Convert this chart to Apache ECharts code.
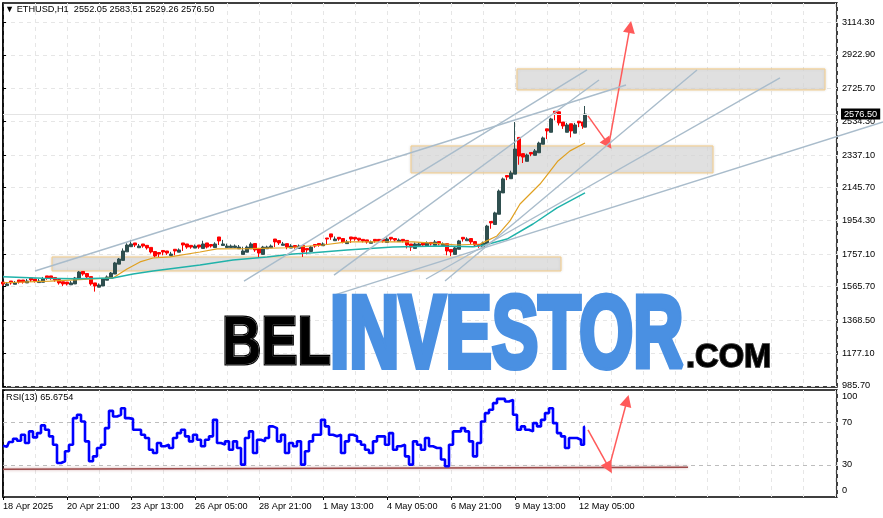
<!DOCTYPE html>
<html>
<head>
<meta charset="utf-8">
<style>html,body{margin:0;padding:0;background:#fff}#c{width:883px;height:518px}</style>
<script src="https://cdn.jsdelivr.net/npm/echarts@6/dist/echarts.min.js"></script>
</head>
<body>
<div id="c"></div>
<script>
const titleText = '▼ ETHUSD,H1  2552.05 2583.51 2529.26 2576.50';
const rsiTitle = 'RSI(13) 65.6754';
const lastPrice = 2576.5;
const priceTicks = [3114.3,2922.9,2725.7,2534.3,2337.1,2145.7,1954.3,1757.1,1565.7,1368.5,1177.1,985.7];
const rsiTicks = [100,70,30,0];
const rsiLevels = [70,30];
const dateHours = [0,64,128,192,256,320,384,448,512,576];
const dateLabels = ['18 Apr 2025','20 Apr 21:00','23 Apr 13:00','26 Apr 05:00','28 Apr 21:00','1 May 13:00','4 May 05:00','6 May 21:00','9 May 13:00','12 May 05:00'];
const closes = [1582,1582,1588,1588,1593,1593,1599,1605,1599,1599,
1611,1617,1617,1605,1588,1582,1582,1588,1617,1652,
1640,1623,1582,1570,1576,1611,1623,1646,1705,1728,
1775,1810,1816,1810,1804,1804,1793,1769,1746,1757,
1769,1763,1757,1775,1781,1810,1798,1798,1804,1798,
1816,1798,1804,1816,1834,1816,1804,1804,1804,1798,
1775,1798,1816,1781,1763,1798,1798,1804,1828,1822,
1816,1798,1804,1798,
1804,1769,1781,1798,1804,1810,1816,1845,1857,1845,
1845,1828,1828,1845,1845,1839,1834,1828,1828,1834,
1834,1834,1845,1845,1839,1839,1834,1810,1798,1816,
1816,1810,1822,1816,1828,1816,1816,1775,1769,1793,
1834,1845,1845,1828,1810,1804,1822,1921,1939,1998,
2126,2197,2208,2232,2372,2331,2325,2337,2343,2361,
2407,2437,2478,2548,2583,2525,2507,2513,2478,2513,
2525,2507,2576.5];
const highs = [1593,1593,1599,1599,1605,1605,1611,1617,1611,1611,
1623,1629,1629,1620,1608,1595,1593,1599,1623,1658,
1655,1643,1625,1588,1585,1617,1632,1652,1711,1734,
1790,1820,1840,1822,1816,1816,1808,1796,1772,1766,
1778,1775,1770,1785,1790,1822,1816,1808,1813,1810,
1835,1822,1813,1826,1857,1840,1818,1813,1813,1810,
1800,1807,1826,1819,1790,1805,1806,1813,1845,1836,
1828,1818,1815,1807,
1813,1807,1790,1805,1813,1819,1825,1851,1875,1860,
1855,1848,1840,1857,1855,1850,1843,1840,1836,1843,
1843,1843,1854,1855,1848,1848,1843,1837,1816,1825,
1825,1822,1831,1825,1839,1830,1825,1818,1784,1802,
1840,1855,1855,1848,1830,1813,1830,1928,1948,2005,
2135,2205,2217,2245,2530,2440,2345,2345,2352,2372,
2415,2445,2490,2555,2593,2590,2530,2525,2520,2525,
2535,2530,2624];
const lows = [1570,1572,1578,1580,1584,1584,1588,1594,1590,1590,
1592,1606,1606,1595,1578,1570,1573,1577,1582,1610,
1630,1612,1572,1537,1563,1570,1604,1614,1640,1698,
1720,1770,1800,1798,1794,1794,1783,1760,1738,1740,
1750,1752,1748,1750,1768,1775,1788,1788,1792,1788,
1790,1790,1795,1795,1810,1807,1795,1795,1795,1788,
1755,1768,1788,1770,1740,1755,1788,1794,1798,1810,
1808,1785,1792,1788,
1790,1740,1755,1772,1794,1800,1806,1810,1840,1835,
1835,1820,1818,1822,1835,1830,1825,1818,1820,1824,
1824,1824,1825,1835,1830,1830,1825,1790,1775,1790,
1806,1800,1802,1806,1808,1808,1806,1750,1745,1755,
1785,1830,1835,1815,1798,1793,1798,1815,1905,1930,
1990,2115,2190,2198,2225,2280,2290,2300,2330,2335,
2350,2400,2430,2470,2540,2510,2490,2470,2440,2465,
2500,2490,2500];
const barColours = 'rdrdrrdrrdd' + 'rrrrrrd' + 'ddrrr' + 'rddd' + 'ddddd' + 'drdrrrrr' + 'rrdrd' + 'rrrdrdrrd' + 'rddddddddr' + 'rdddrrdrdr'
  + 'drrdrrdrrd' + 'rrdrrrrrdr' + 'rrdrrdrrrd' + 'drdrdrdrrd' + 'drdrrrddrd' + 'ddrddrrdrd' + 'ddrdrrrdrd' + 'rrd';
const rsiValues = [48,47,51.4,54.5,52.6,58.2,50.5,61.3,55.7,59.7,
66.9,62.9,56.7,48.9,31.8,33.4,42.7,48.9,73.7,76.8,
70.6,52,33.4,38,45.8,48.9,64.4,80.5,75.2,76.8,
83,73.7,73,62.9,62.9,58.2,55.1,44.2,41.1,50.5,
47.4,48.9,45.8,55.1,59.7,62.9,56.7,52,58.2,53.5,
47.4,53.5,56.7,72.1,50.5,48.9,52,44.2,52,45.8,
30.3,55.1,61.3,41.1,53.5,52,55.1,66,64.4,52,
58.2,41.1,50.5,47.4,52,30.3,42.7,52,58.2,58.2,
72.1,66,58.2,56.7,58.2,41.1,52,58.2,56.7,52,
48.9,44.2,41.1,52,56.7,56.7,48.9,59.7,44.2,47.4,
48.9,38,30.3,52,48.9,44.2,55.1,47.4,45.8,45.8,
35,28.8,48.9,61.3,61.3,64.4,61.3,52,38,50.5,
70.6,78.4,81.5,87.7,91.7,91.7,89.2,90.8,76.8,62.9,
66,62.9,61.3,69,66,72.1,78.4,83,69,59.7,
56.7,45.8,55.1,55.1,53.5,48.9,65.7];
const maFast = [[0,1589],[47,1599],[110,1617],[124,1670],[137,1711],[150,1734],[167,1740],[197,1769],[214,1787],[247,1789],[284,1794],[320,1810],[344,1828],[377,1828],[410,1828],[437,1818],[454,1810],[477,1816],[480,1824],[494,1863],[507,1951],[517,2050],[537,2167],[545,2226],[555,2302],[567,2361],[582,2407]];
const maSlow = [[0,1624],[40,1615],[74,1613],[110,1617],[130,1640],[150,1658],[197,1693],[230,1722],[264,1740],[290,1757],[310,1765],[344,1781],[390,1798],[437,1804],[470,1800],[482,1810],[504,1845],[530,1933],[554,2027],[582,2115]];
const trendLines = [
  [[32,1658],[623,2747]],
  [[241,1599],[584,2835]],
  [[331,1634],[596,2776]],
  [[442,1599],[694,2835]],
  [[423,1611],[777,2788]],
  [[331,1517],[880,2530]]
];
const zones = [
  [[49,1740],[558,1658]],
  [[408,2390],[710,2232]],
  [[514,2841],[822,2718]]
];
const priceArrows = [
  [[585,2566],[605,2402]],
  [[606,2402],[627,3087]]
];
const rsiArrows = [
  [[585,62.8],[606,27.2]],
  [[606,27.2],[624,90]]
];
const rsiSupport = [[0,26],[685,27.9]];

const FONT = 'Liberation Sans';
const FS = 9.2;
const STEP = 4, LAST_HOUR = 582;
const PRICE_MIN = 978.6, PRICE_MAX = 3227;
const hourOf = i => Math.min(i * STEP, LAST_HOUR);
const candleData = closes.map((c, i) => [hourOf(i), barColours[i] === 'r' ? highs[i] : lows[i], c, lows[i], highs[i]]);
const rsiData = rsiValues.map((v, i) => [hourOf(i), v]);

const plainLine = (data, color, width, extra) => Object.assign({
  type: 'line', data, showSymbol: false, symbol: 'none', silent: true,
  lineStyle: { color, width }, xAxisIndex: 0, yAxisIndex: 0
}, extra || {});

const arrowSeries = (arrows, xi, yi) => ({
  type: 'line', data: [], xAxisIndex: xi, yAxisIndex: yi, silent: true, z: 12,
  markLine: {
    silent: true, animation: false, symbol: ['none', 'triangle'], symbolSize: 12,
    lineStyle: { color: '#ff5a5a', width: 1.5, type: 'solid', opacity: 1 },
    itemStyle: { color: '#ff4d4d' }, label: { show: false },
    data: arrows.map(a => [{ coord: a[0] }, { coord: a[1] }])
  }
});

const series = [
  {
    type: 'candlestick', data: candleData, encode: { x: 0, y: [1, 2, 3, 4] },
    xAxisIndex: 0, yAxisIndex: 0, barWidth: 3, silent: true, z: 3,
    itemStyle: { color: '#2f4f4f', color0: '#ff0000', borderColor: '#2f4f4f', borderColor0: '#ff0000', borderWidth: 1 }
  },
  plainLine(maFast, '#e0a020', 1.2, { z: 4 }),
  plainLine(maSlow, '#20b2aa', 1.5, { z: 4 })
];
trendLines.forEach(t => series.push(plainLine(t, '#a9bccb', 1.4, { xAxisIndex: 3, yAxisIndex: 2, z: 5 })));
series.push({
  type: 'line', data: [], xAxisIndex: 0, yAxisIndex: 0, silent: true, z: 8,
  markArea: {
    silent: true, animation: false,
    itemStyle: { color: 'rgba(222,222,222,0.72)', borderColor: '#f6cd88', borderWidth: 1, shadowBlur: 3, shadowColor: 'rgba(0,0,0,0.15)' },
    data: zones.map(z => [{ coord: z[0] }, { coord: z[1] }])
  }
});
series.push({
  type: 'line', data: [], xAxisIndex: 0, yAxisIndex: 0, silent: true, z: 2,
  markLine: {
    silent: true, animation: false, symbol: 'none',
    lineStyle: { color: '#e4e4e4', width: 1, type: 'solid' },
    label: { show: true, position: 'end', distance: 4, formatter: lastPrice.toFixed(2), color: '#fff', backgroundColor: '#000', padding: [1, 3, 1, 3], fontFamily: FONT, fontSize: FS },
    data: [{ yAxis: lastPrice }]
  }
});
series.push(arrowSeries(priceArrows, 0, 0));
series.push({
  type: 'line', data: [], xAxisIndex: 1, yAxisIndex: 1, silent: true, z: 2,
  markLine: {
    silent: true, animation: false, symbol: 'none', label: { show: false },
    lineStyle: { color: '#bdbdbd', width: 1, type: [4, 4] },
    data: rsiLevels.map(v => ({ yAxis: v }))
  }
});
series.push(plainLine(rsiSupport, '#9c4a4a', 1.5, { xAxisIndex: 1, yAxisIndex: 1, z: 3, lineStyle: { color: '#9c4a4a', width: 1.5, shadowBlur: 3, shadowColor: 'rgba(160,80,80,0.6)' } }));
series.push(plainLine(rsiData, '#0000ff', 2.6, { xAxisIndex: 1, yAxisIndex: 1, z: 6, step: 'middle' }));
series.push(arrowSeries(rsiArrows, 1, 1));

const gridDash = { show: true, lineStyle: { color: '#e6e6e6', width: 1, type: [4, 4] } };
const axisText = { fontFamily: FONT, fontSize: FS, color: '#000' };
const xMax = 834;

const wm = (text, x, y, size, scaleX, fill, stroke, lw) => ({
  type: 'text', x, y, scaleX, z: 50, silent: true,
  style: { text, fontFamily: FONT, fontWeight: 'bold', fontSize: size, fill, stroke, lineWidth: lw, verticalAlign: 'middle', textVerticalAlign: 'middle' }
});

const option = {
  animation: false,
  backgroundColor: '#fff',
  title: [
    { text: titleText, left: 5, top: 5, padding: 0, textStyle: { fontFamily: FONT, fontSize: FS, fontWeight: 'normal', color: '#000' } },
    { text: rsiTitle, left: 6, top: 393, padding: 0, textStyle: { fontFamily: FONT, fontSize: FS, fontWeight: 'normal', color: '#000' } }
  ],
  grid: [
    { left: 3, width: xMax, top: 3, height: 384, show: true, borderColor: '#000', borderWidth: 1.5, backgroundColor: 'transparent' },
    { left: 3, width: xMax, top: 390, height: 107, show: true, borderColor: '#000', borderWidth: 1.5, backgroundColor: 'transparent' },
    { left: 3, width: 880, top: 3, height: 384, show: false }
  ],
  xAxis: [
    { type: 'value', gridIndex: 0, min: 0, max: xMax, interval: 32, axisLine: { show: false }, axisTick: { show: false }, axisLabel: { show: false }, splitLine: gridDash },
    { type: 'value', gridIndex: 1, min: 0, max: xMax, interval: 32, axisLine: { show: false }, axisTick: { show: false }, axisLabel: { show: false }, splitLine: gridDash },
    {
      type: 'value', gridIndex: 1, position: 'bottom', min: 0, max: xMax,
      axisLine: { show: false }, splitLine: { show: false },
      axisTick: { show: true, length: 3, customValues: dateHours, lineStyle: { color: '#000' } },
      axisLabel: { show: true, customValues: dateHours, align: 'left', margin: 5, showMinLabel: true, hideOverlap: false, ...axisText, formatter: v => dateLabels[dateHours.indexOf(v)] || '' }
    },
    { type: 'value', gridIndex: 2, min: 0, max: 880, show: false }
  ],
  yAxis: [
    {
      type: 'value', gridIndex: 0, position: 'right', min: PRICE_MIN, max: PRICE_MAX,
      axisLine: { show: true, lineStyle: { color: '#000', width: 1.5 } },
      axisTick: { show: true, length: 3, customValues: priceTicks, lineStyle: { color: '#000' } },
      splitLine: gridDash,
      axisLabel: { show: true, customValues: priceTicks, margin: 5, ...axisText, formatter: v => v.toFixed(2) }
    },
    {
      type: 'value', gridIndex: 1, position: 'right', min: 0, max: 100,
      axisLine: { show: true, lineStyle: { color: '#000', width: 1.5 } },
      axisTick: { show: true, length: 2, customValues: [0, 100], lineStyle: { color: '#000' } },
      splitLine: { show: false },
      axisLabel: {
        show: true, customValues: rsiTicks, margin: 5, ...axisText,
        formatter: v => v === 100 ? '{top|100}' : v === 0 ? '{bot|0}' : String(v),
        rich: {
          top: { fontFamily: FONT, fontSize: FS, color: '#000', padding: [12, 0, 0, 0] },
          bot: { fontFamily: FONT, fontSize: FS, color: '#000', padding: [0, 0, 14, 0] }
        }
      }
    },
    { type: 'value', gridIndex: 2, min: PRICE_MIN, max: PRICE_MAX, show: false }
  ],
  series,
  graphic: [
    wm('BEL', 222, 345.5, 68, 0.8, '#000', '#000', 3),
    wm('BEL', 222, 345.5, 68, 0.8, '#000', '#bbb', 0.7),
    wm('INVESTOR', 330, 338.5, 102, 0.68, '#4a90e2', '#4a90e2', 6),
    wm('.COM', 686, 357.5, 33, 0.99, '#000', '#000', 1.5),
    wm('.COM', 686, 357.5, 33, 0.99, '#000', '#999', 0.4)
  ]
};
echarts.init(document.getElementById('c'), null, { renderer: 'canvas' }).setOption(option);
</script>
</body>
</html>
